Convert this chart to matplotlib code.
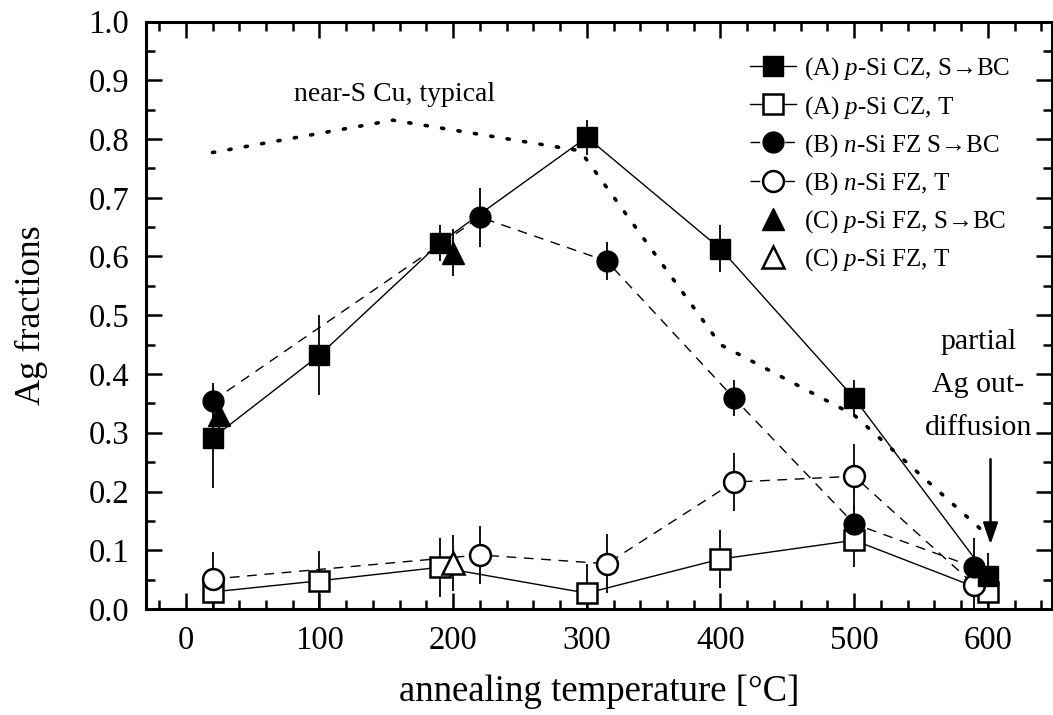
import matplotlib
matplotlib.use("Agg")
import matplotlib.pyplot as plt
from matplotlib.lines import Line2D
from matplotlib.ticker import MultipleLocator, FormatStrFormatter

plt.rcParams['font.family'] = ['Liberation Serif', 'DejaVu Serif']
plt.rcParams['mathtext.fontset'] = 'custom'
plt.rcParams['mathtext.rm'] = 'Liberation Serif'
plt.rcParams['mathtext.it'] = 'Liberation Serif:italic'

# (A) p-Si CZ
a_x = [20, 100, 190, 300, 400, 500, 600]
a_sbc = [0.291, 0.432, 0.623, 0.803, 0.613, 0.359, 0.056]
a_sbc_err = [0.085, 0.068, 0.03, 0.03, 0.04, 0.03, 0.04]
a_t = [0.029, 0.048, 0.071, 0.027, 0.085, 0.117, 0.029]
a_t_err = [0.03, 0.05, 0.05, 0.05, 0.05, 0.045, 0.04]

# (B) n-Si FZ
b_x = [20, 220, 315, 410, 500, 590]
b_sbc = [0.354, 0.667, 0.592, 0.359, 0.145, 0.071]
b_sbc_err = [0.03, 0.05, 0.032, 0.03, 0.03, 0.05]
b_t = [0.051, 0.092, 0.077, 0.216, 0.226, 0.041]
b_t_err = [0.046, 0.05, 0.05, 0.05, 0.055, 0.05]

# (C) p-Si FZ
c_x = [25, 200]
c_sbc = [0.33, 0.606]
c_sbc_err = [0.03, 0.04]
c_t_x = [200]
c_t = [0.078]
c_t_err = [0.048]

# near-S Cu, typical
cu_x = [20, 155, 295, 400, 500, 600]
cu_y = [0.777, 0.832, 0.78, 0.45, 0.33, 0.125]

fig = plt.figure(figsize=(10.53, 7.15), dpi=100)
ax = fig.add_axes([145.7 / 1053, 1 - 609 / 715, (1052 - 145.7) / 1053, (609 - 21.5) / 715])

dash = (0, (7, 5.5))
ms_sq, ms_c, ms_tri = 14, 15, 16
mew = 1.8

ax.plot(cu_x, cu_y, color='black', lw=2.6, linestyle=(0, (0.6, 4.0)),
        dash_capstyle='round', zorder=1)

for x, y, e in [(a_x, a_sbc, a_sbc_err), (a_x, a_t, a_t_err),
                (b_x, b_sbc, b_sbc_err), (b_x, b_t, b_t_err),
                (c_x, c_sbc, c_sbc_err), (c_t_x, c_t, c_t_err)]:
    ax.errorbar(x, y, yerr=e, fmt='none', ecolor='black', elinewidth=1.3,
                capsize=0, zorder=2)

ax.plot(a_x, a_sbc, '-', color='black', lw=1.0, zorder=3)
ax.plot(a_x, a_t, '-', color='black', lw=1.0, zorder=3)
ax.plot(b_x, b_sbc, color='black', lw=1.0, linestyle=dash, zorder=3)
ax.plot(b_x, b_t, color='black', lw=1.0, linestyle=dash, zorder=3)

ax.plot(a_x, a_sbc, 's', ms=ms_sq, color='black', zorder=5)
ax.plot(a_x, a_t, 's', ms=ms_sq, mfc='white', mec='black', mew=mew, zorder=4)
ax.plot(b_x, b_sbc, 'o', ms=ms_c, color='black', zorder=5)
ax.plot(b_x, b_t, 'o', ms=ms_c, mfc='white', mec='black', mew=mew, zorder=4)
ax.plot(c_x, c_sbc, '^', ms=ms_tri, color='black', zorder=5)
ax.plot(c_t_x, c_t, '^', ms=ms_tri, mfc='white', mec='black', mew=mew, zorder=4)

ax.set_xlim(-30, 648)
ax.set_ylim(0, 1.0)
ax.xaxis.set_major_locator(MultipleLocator(100))
ax.xaxis.set_minor_locator(MultipleLocator(20))
ax.yaxis.set_major_locator(MultipleLocator(0.1))
ax.yaxis.set_minor_locator(MultipleLocator(0.05))
ax.yaxis.set_major_formatter(FormatStrFormatter('%.1f'))
ax.tick_params(which='both', direction='in', top=True, right=True, width=1.8,
               labelsize=23.5)
ax.tick_params(which='major', length=11.5)
ax.tick_params(which='minor', length=6.5)
ax.tick_params(axis='x', pad=12)
ax.tick_params(axis='y', pad=12)
for s in ax.spines.values():
    s.set_linewidth(2.2)

ax.set_xlabel('annealing temperature [°C]', fontsize=26.5, labelpad=13)
ax.set_ylabel('Ag fractions', fontsize=26, labelpad=29)

ax.text(156, 0.876, 'near-S Cu, typical', fontsize=20, ha='center', va='center')
ax.text(593, 0.381, 'partial\nAg out-\ndiffusion', fontsize=21.5, ha='center',
        va='center', linespacing=1.85)
ax.annotate('', xy=(602, 0.11), xytext=(602, 0.255),
            arrowprops=dict(arrowstyle='-|>,head_length=1.3,head_width=0.45',
                            color='black', lw=1.8, shrinkA=0, shrinkB=0))

handles = [
    Line2D([], [], color='black', lw=1.0, marker='s', ms=ms_sq),
    Line2D([], [], color='black', lw=1.0, marker='s', ms=ms_sq, mfc='white', mew=mew),
    Line2D([], [], color='black', lw=1.0, linestyle=dash, marker='o', ms=ms_c),
    Line2D([], [], color='black', lw=1.0, linestyle=dash, marker='o', ms=ms_c, mfc='white', mew=mew),
    Line2D([], [], color='black', lw=0, marker='^', ms=ms_tri),
    Line2D([], [], color='black', lw=0, marker='^', ms=ms_tri, mfc='white', mew=mew),
]
labels = [
    '(A) $p$-Si CZ, S\u2192BC',
    '(A) $p$-Si CZ, T',
    '(B) $n$-Si FZ S\u2192BC',
    '(B) $n$-Si FZ, T',
    '(C) $p$-Si FZ, S\u2192BC',
    '(C) $p$-Si FZ, T',
]
ax.legend(handles, labels, loc='upper left', bbox_to_anchor=(0.667, 0.942),
          frameon=False, fontsize=18, handlelength=1.85, handletextpad=0.3,
          labelspacing=0.45, borderpad=0, borderaxespad=0)

fig.savefig('out.png', dpi=100)
